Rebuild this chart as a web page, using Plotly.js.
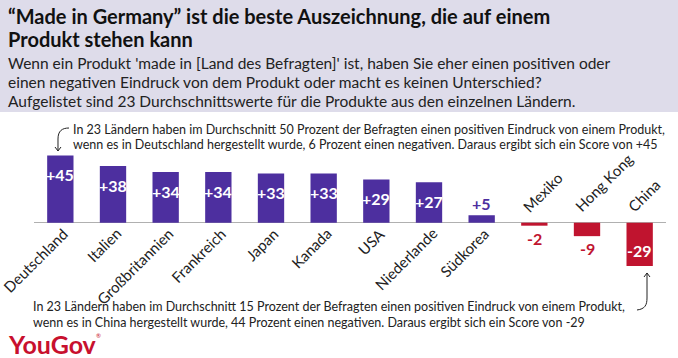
<!DOCTYPE html>
<html>
<head>
<meta charset="utf-8">
<script src="https://cdn.plot.ly/plotly-3.0.1.min.js"></script>
<style>html,body{margin:0;padding:0;background:#fff;}#chart{width:678px;height:358px;}</style>
</head>
<body>
<div id="chart"></div>
<script>
// ---- data ----
var countries = ["Deutschland","Italien","Großbritannien","Frankreich","Japan","Kanada","USA","Niederlande","Südkorea","Mexiko","Hong Kong","China"];
var scores = [45, 38, 34, 34, 33, 33, 29, 27, 5, -2, -9, -29];

var titleLines = ["“Made in Germany” ist die beste Auszeichnung, die auf einem", "Produkt stehen kann"];
var subtitleLines = [
  "Wenn ein Produkt 'made in [Land des Befragten]' ist, haben Sie eher einen positiven oder",
  "einen negativen Eindruck von dem Produkt oder macht es keinen Unterschied?",
  "Aufgelistet sind 23 Durchschnittswerte für die Produkte aus den einzelnen Ländern."
];
var topNote = [
  "In 23 Ländern haben im Durchschnitt 50 Prozent der Befragten einen positiven Eindruck von einem Produkt,",
  "wenn es in Deutschland hergestellt wurde, 6 Prozent einen negativen. Daraus ergibt sich ein Score von +45"
];
var bottomNote = [
  "In 23 Ländern haben im Durchschnitt 15 Prozent der Befragten einen positiven Eindruck von einem Produkt,",
  "wenn es in China hergestellt wurde, 44 Prozent einen negativen. Daraus ergibt sich ein Score von -29"
];

// ---- style ----
var W = 678, H = 358;
var M = {l: 34, r: 12, t: 148, b: 83};
var PW = W - M.l - M.r, PH = H - M.t - M.b;
var PURPLE = "#4d2f9f", RED = "#c0142f", FONT = "Lato, 'Open Sans', sans-serif";
function px(x){ return (x - M.l) / PW; }
function py(y){ return (H - M.b - y) / PH; }
function path(pts){
  return pts.map(function(p){
    var s = p[0];
    for (var i = 1; i < p.length; i += 2) s += " " + px(p[i]).toFixed(5) + "," + py(p[i+1]).toFixed(5);
    return s;
  }).join(" ");
}

var barcol = scores.map(function(v){ return v >= 0 ? PURPLE : RED; });

var trace = {
  type: "bar", x: countries, y: scores,
  marker: {color: barcol, line: {width: 0}},
  cliponaxis: false, hoverinfo: "skip"
};

var ann = [];
titleLines.forEach(function(t, i){
  ann.push({xref: "paper", yref: "paper", x: px(6), y: py(16 + i * 23), xanchor: "left", yanchor: "middle",
    text: "<b>" + t + "</b>", showarrow: false, font: {family: FONT, size: 20, color: "#111"}});
});
subtitleLines.forEach(function(t, i){
  ann.push({xref: "paper", yref: "paper", x: px(6), y: py(63 + i * 19), xanchor: "left", yanchor: "middle",
    text: t, showarrow: false, font: {family: FONT, size: 15.5, color: "#222"}});
});
topNote.forEach(function(t, i){
  ann.push({xref: "paper", yref: "paper", x: px(71), y: py(129 + i * 15), xanchor: "left", yanchor: "middle",
    text: t, showarrow: false, font: {family: FONT, size: 12.5, color: "#222"}});
});
bottomNote.forEach(function(t, i){
  ann.push({xref: "paper", yref: "paper", x: px(31), y: py(306 + i * 16), xanchor: "left", yanchor: "middle",
    text: t, showarrow: false, font: {family: FONT, size: 12.5, color: "#222"}});
});
ann.push({xref: "paper", yref: "paper", x: px(7), y: py(344), xanchor: "left", yanchor: "middle", borderpad: 0,
  text: "<b>YouGov</b>", showarrow: false, font: {family: FONT, size: 25, color: "#c8102e"}});
ann.push({xref: "paper", yref: "paper", x: px(95), y: py(335), xanchor: "left", yanchor: "middle", borderpad: 0,
  text: "®", showarrow: false, font: {family: FONT, size: 6, color: "#c8102e"}});

// value labels, placed on the bars through the axes
scores.forEach(function(v, i){
  var big = Math.abs(v) >= 20, pos = v > 0;
  var a = {xref: "x", yref: "y", x: countries[i], y: v, showarrow: false,
    text: "<b>" + (pos ? "+" : "") + v + "</b>",
    font: {family: FONT, size: 16, color: big ? "#ffffff" : (pos ? PURPLE : RED)}};
  if (pos && big) { a.yanchor = "top"; a.yshift = -8; }
  else if (pos) { a.yanchor = "bottom"; a.yshift = 0; }
  else if (big) { a.yanchor = "bottom"; a.yshift = 4; }
  else { a.yanchor = "top"; a.yshift = -1; }
  ann.push(a);
});

// category labels
countries.forEach(function(c, i){
  var neg = scores[i] < 0;
  ann.push({xref: "x", yref: "y", x: c, y: 0, showarrow: false, text: c, textangle: -45,
    xanchor: neg ? "left" : "right", yanchor: neg ? "bottom" : "top",
    xshift: neg ? -18 : 14, yshift: neg ? 5 : 1,
    font: {family: FONT, size: 15, color: "#222"}});
});

var shapes = [
  {type: "rect", xref: "paper", yref: "paper", x0: px(0), x1: px(W), y0: py(112), y1: py(0),
   fillcolor: "#dedcea", line: {width: 0}, layer: "below"},
  {type: "path", xref: "paper", yref: "paper", line: {color: "#222", width: 1},
   path: path([["M", 69, 128], ["C", 62, 128, 58, 131, 58, 139], ["L", 58, 151]])},
  {type: "path", xref: "paper", yref: "paper", line: {color: "#222", width: 1},
   path: path([["M", 55, 147], ["L", 58, 151], ["L", 61, 147]])},
  {type: "path", xref: "paper", yref: "paper", line: {color: "#222", width: 1},
   path: path([["M", 637, 310], ["C", 645, 309, 647, 305, 647, 298], ["L", 647, 273]])},
  {type: "path", xref: "paper", yref: "paper", line: {color: "#222", width: 1},
   path: path([["M", 644, 277], ["L", 647, 273], ["L", 650, 277]])}
];

var layout = {
  width: W, height: H, margin: M, paper_bgcolor: "#fff", plot_bgcolor: "rgba(0,0,0,0)",
  showlegend: false, bargap: 0.5, font: {family: FONT},
  xaxis: {range: [-0.5, countries.length - 0.5], showticklabels: false, showgrid: false, zeroline: false, showline: false, ticks: "", fixedrange: true},
  yaxis: {range: [-35, 50], showticklabels: false, showgrid: false, zeroline: true, zerolinecolor: "#b0b0b0", zerolinewidth: 1, ticks: "", fixedrange: true},
  annotations: ann, shapes: shapes
};
Plotly.newPlot("chart", [trace], layout, {displayModeBar: false, staticPlot: true});
</script>
</body>
</html>
